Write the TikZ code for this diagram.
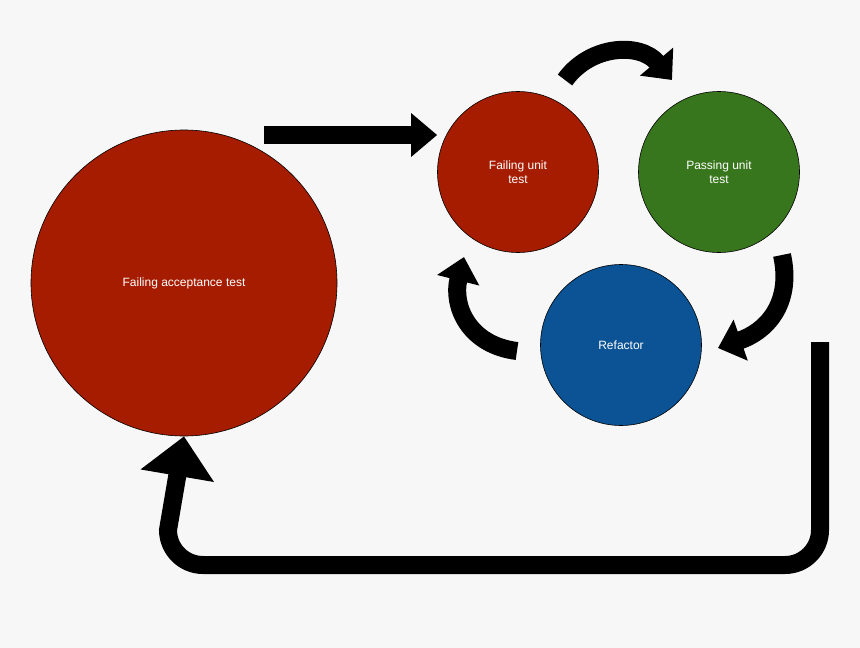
\documentclass[tikz,border=0pt]{standalone}
\usepackage{fontspec}
\setmainfont{Liberation Sans}
\usetikzlibrary{arrows.meta}
\definecolor{bg}{HTML}{F7F7F7}
\definecolor{cred}{HTML}{A61C00}
\definecolor{cgreen}{HTML}{38761D}
\definecolor{cblue}{HTML}{0B5394}
\begin{document}
\begin{tikzpicture}[x=1pt,y=-1pt,
  circ/.style={circle,draw=black,line width=0.6pt,text=white,align=center,inner sep=0pt,font=\fontsize{12}{14}\selectfont},
  big/.style={line width=18pt,-{Triangle[width=46pt,length=26pt]}}]
\fill[bg] (0,0) rectangle (860,648);
\useasboundingbox (0,0) rectangle (860,648);
\node[circ,fill=cred,minimum size=306pt] (fat) at (184,283) {Failing acceptance test};
\node[circ,fill=cred,minimum size=161pt] (fut) at (518,172) {Failing unit\\test};
\node[circ,fill=cgreen,minimum size=161pt] (put) at (719,172) {Passing unit\\test};
\node[circ,fill=cblue,minimum size=161pt] (ref) at (621,345) {Refactor};
\coordinate (a0) at (264,135);
\draw[line width=18pt,-{Triangle[width=42pt,length=26pt]}] (a0) -- (fut.west |- a0);
\draw[line width=18pt,-{Triangle[width=42pt,length=24pt]}] (565,80) .. controls (590,45) and (640,42) .. (672,80);
\draw[line width=18pt,-{Triangle[width=42pt,length=24pt]}] (782,255) .. controls (792,300) and (770,330) .. (718,348);
\draw[line width=18pt,-{Triangle[width=42pt,length=24pt]}] (517,351) .. controls (468,345) and (452,305) .. (464,257);
\coordinate (r0) at (820,342);
\draw[line width=18pt,-{Triangle[width=72pt,length=40pt]}] (r0) -- (820,530) arc[start angle=0,end angle=90,radius=35] -- (203,565) arc[start angle=90,end angle=180,radius=35] -- (fat.south);
\end{tikzpicture}
\end{document}
